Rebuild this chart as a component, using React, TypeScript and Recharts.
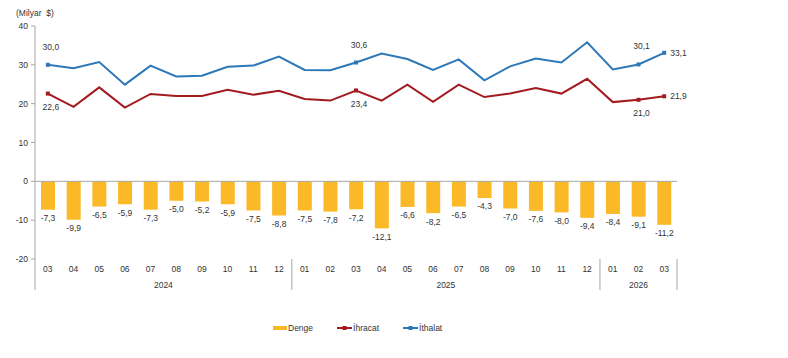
import React from 'react';
import { ComposedChart, Bar, Line, XAxis, YAxis, ReferenceLine, LabelList, Legend } from 'recharts';

const months = ['03','04','05','06','07','08','09','10','11','12','01','02','03','04','05','06','07','08','09','10','11','12','01','02','03'];
const years = ['2024','2024','2024','2024','2024','2024','2024','2024','2024','2024','2025','2025','2025','2025','2025','2025','2025','2025','2025','2025','2025','2025','2026','2026','2026'];
const denge = [-7.3,-9.9,-6.5,-5.9,-7.3,-5.0,-5.2,-5.9,-7.5,-8.8,-7.5,-7.8,-7.2,-12.1,-6.6,-8.2,-6.5,-4.3,-7.0,-7.6,-8.0,-9.4,-8.4,-9.1,-11.2];
const ihracat = [22.6,19.2,24.2,19.0,22.5,22.0,22.0,23.6,22.3,23.3,21.2,20.8,23.4,20.8,24.9,20.5,24.9,21.7,22.6,24.0,22.6,26.4,20.4,21.0,21.9];
const ithalat = [30.0,29.1,30.7,24.9,29.8,27.0,27.2,29.5,29.8,32.1,28.7,28.6,30.6,32.9,31.5,28.7,31.4,26.0,29.6,31.6,30.6,35.8,28.8,30.1,33.1];
const yTicks = [-20, -10, 0, 10, 20, 30, 40];
const labeledIdx = [0, 12, 23, 24];
const rightLabelIdx = 24;

const YELLOW = '#FBB927';
const RED = '#A31A1F';
const BLUE = '#2E78B8';
const GRAY = '#A6A6A6';
const TEXT = '#333333';
const FONT = '"Liberation Sans", Arial, sans-serif';
const FS = 8.5;

const data = months.map((m, i) => ({
  key: `${years[i]}-${m}`,
  month: m,
  year: years[i],
  denge: denge[i],
  ihracat: ihracat[i],
  ithalat: ithalat[i],
}));

type Spec = { value: number; kind: 'month' | 'sep' | 'year'; label: string };
const specs: Spec[] = [];
months.forEach((m, i) => specs.push({ value: i, kind: 'month', label: m }));
{
  let start = 0;
  for (let i = 0; i <= years.length; i++) {
    if (i === years.length || years[i] !== years[start]) {
      specs.push({ value: start - 0.5, kind: 'sep', label: '' });
      let c = (start + i - 1) / 2;
      if (Number.isInteger(c)) c += 1e-6;
      specs.push({ value: c, kind: 'year', label: years[start] });
      start = i;
    }
  }
  specs.push({ value: years.length - 0.5, kind: 'sep', label: '' });
}
const gridTicks = specs.map((s) => s.value).sort((a, b) => a - b);

const fmt = (v: number) => v.toFixed(1).replace('.', ',');

const AxisTick = (props: any) => {
  const { x, y, payload } = props;
  const s = specs.find((q) => Math.abs(q.value - payload.value) < 1e-9);
  if (!s) return <g />;
  if (s.kind === 'sep') {
    return <line x1={x} x2={x} y1={y} y2={y + 31} stroke={GRAY} strokeWidth={1} />;
  }
  if (s.kind === 'month') {
    return (
      <text x={x} y={y + 12.5} textAnchor="middle" fontSize={FS} fontFamily={FONT} fill={TEXT}>
        {s.label}
      </text>
    );
  }
  return (
    <text x={x} y={y + 28.5} textAnchor="middle" fontSize={FS} fontFamily={FONT} fill={TEXT}>
      {s.label}
    </text>
  );
};

const BarLabel = (props: any) => {
  const { x, y, width, height, value } = props;
  const bottom = Math.max(y, y + height);
  return (
    <text x={x + width / 2} y={bottom + 11.4} textAnchor="middle" fontSize={FS} fontFamily={FONT} fill={TEXT}>
      {fmt(value)}
    </text>
  );
};

const makeLineLabel = (above: boolean) => (props: any) => {
  const { x, y, value, index } = props;
  if (!labeledIdx.includes(index)) return <g />;
  if (index === rightLabelIdx) {
    return (
      <text x={x + 6} y={y + 3} textAnchor="start" fontSize={FS} fontFamily={FONT} fill={TEXT}>
        {fmt(value)}
      </text>
    );
  }
  return (
    <text x={x + 3} y={above ? y - 15 : y + 16.5} textAnchor="middle" fontSize={FS} fontFamily={FONT} fill={TEXT}>
      {fmt(value)}
    </text>
  );
};

const makeDot = (color: string) => (props: any) => {
  const { cx, cy, index } = props;
  if (!labeledIdx.includes(index)) return <g key={`d${index}`} />;
  return <rect key={`d${index}`} x={cx - 2} y={cy - 2} width={4} height={4} fill={color} />;
};

const LegendContent = () => (
  <div
    style={{
      display: 'flex',
      alignItems: 'center',
      paddingLeft: 273,
      gap: 24,
      fontSize: FS,
      fontFamily: FONT,
      color: TEXT,
      height: 16,
      lineHeight: '16px',
    }}
  >
    <span style={{ display: 'flex', alignItems: 'center' }}>
      <span style={{ display: 'inline-block', width: 14, height: 4, background: YELLOW, marginRight: 1 }} />
      Denge
    </span>
    <span style={{ display: 'flex', alignItems: 'center' }}>
      <svg width={15} height={6} style={{ marginRight: 1 }}>
        <line x1={0} x2={15} y1={3} y2={3} stroke={RED} strokeWidth={2} />
        <rect x={5.5} y={1} width={4} height={4} fill={RED} />
      </svg>
      İhracat
    </span>
    <span style={{ display: 'flex', alignItems: 'center' }}>
      <svg width={15} height={6} style={{ marginRight: 1 }}>
        <line x1={0} x2={15} y1={3} y2={3} stroke={BLUE} strokeWidth={2} />
        <rect x={5.5} y={1} width={4} height={4} fill={BLUE} />
      </svg>
      İthalat
    </span>
  </div>
);

export default function App() {
  return (
    <div style={{ position: 'absolute', left: 0, top: 0, width: 788, height: 358, background: '#fff' }}>
      <div
        style={{
          position: 'absolute',
          left: 16,
          top: 9,
          fontSize: FS,
          fontFamily: FONT,
          color: TEXT,
          lineHeight: 1,
          whiteSpace: 'pre',
        }}
      >
        (Milyar  $)
      </div>
      <ComposedChart width={788} height={358} data={data} margin={{ top: 26, right: 111, left: 0, bottom: 67 }}>
        <XAxis
          xAxisId="grid"
          type="number"
          dataKey={() => 0}
          domain={[-0.5, months.length - 0.5]}
          ticks={gridTicks}
          interval={0}
          height={32}
          axisLine={false}
          tickLine={false}
          tickSize={0}
          tickMargin={0}
          tick={AxisTick}
          allowDataOverflow
        />
        <XAxis xAxisId="cat" dataKey="key" hide height={0} />
        <YAxis
          width={35}
          domain={[-20, 40]}
          ticks={yTicks}
          interval={0}
          axisLine={{ stroke: GRAY }}
          tickLine={{ stroke: GRAY }}
          tickSize={4}
          tickMargin={3}
          tick={{ fontSize: FS, fontFamily: FONT, fill: TEXT }}
        />
        <ReferenceLine y={0} xAxisId="cat" stroke={GRAY} strokeWidth={1} />
        <Bar xAxisId="cat" dataKey="denge" fill={YELLOW} barSize={14} isAnimationActive={false}>
          <LabelList dataKey="denge" content={BarLabel} />
        </Bar>
        <Line
          xAxisId="cat"
          type="linear"
          dataKey="ihracat"
          stroke={RED}
          strokeWidth={2}
          dot={makeDot(RED)}
          activeDot={false}
          isAnimationActive={false}
        >
          <LabelList dataKey="ihracat" content={makeLineLabel(false)} />
        </Line>
        <Line
          xAxisId="cat"
          type="linear"
          dataKey="ithalat"
          stroke={BLUE}
          strokeWidth={2}
          dot={makeDot(BLUE)}
          activeDot={false}
          isAnimationActive={false}
        >
          <LabelList dataKey="ithalat" content={makeLineLabel(true)} />
        </Line>
        <Legend
          layout="vertical"
          align="center"
          verticalAlign="middle"
          wrapperStyle={{ top: 320, left: 0, width: 788, height: 16 }}
          content={LegendContent}
        />
      </ComposedChart>
    </div>
  );
}
